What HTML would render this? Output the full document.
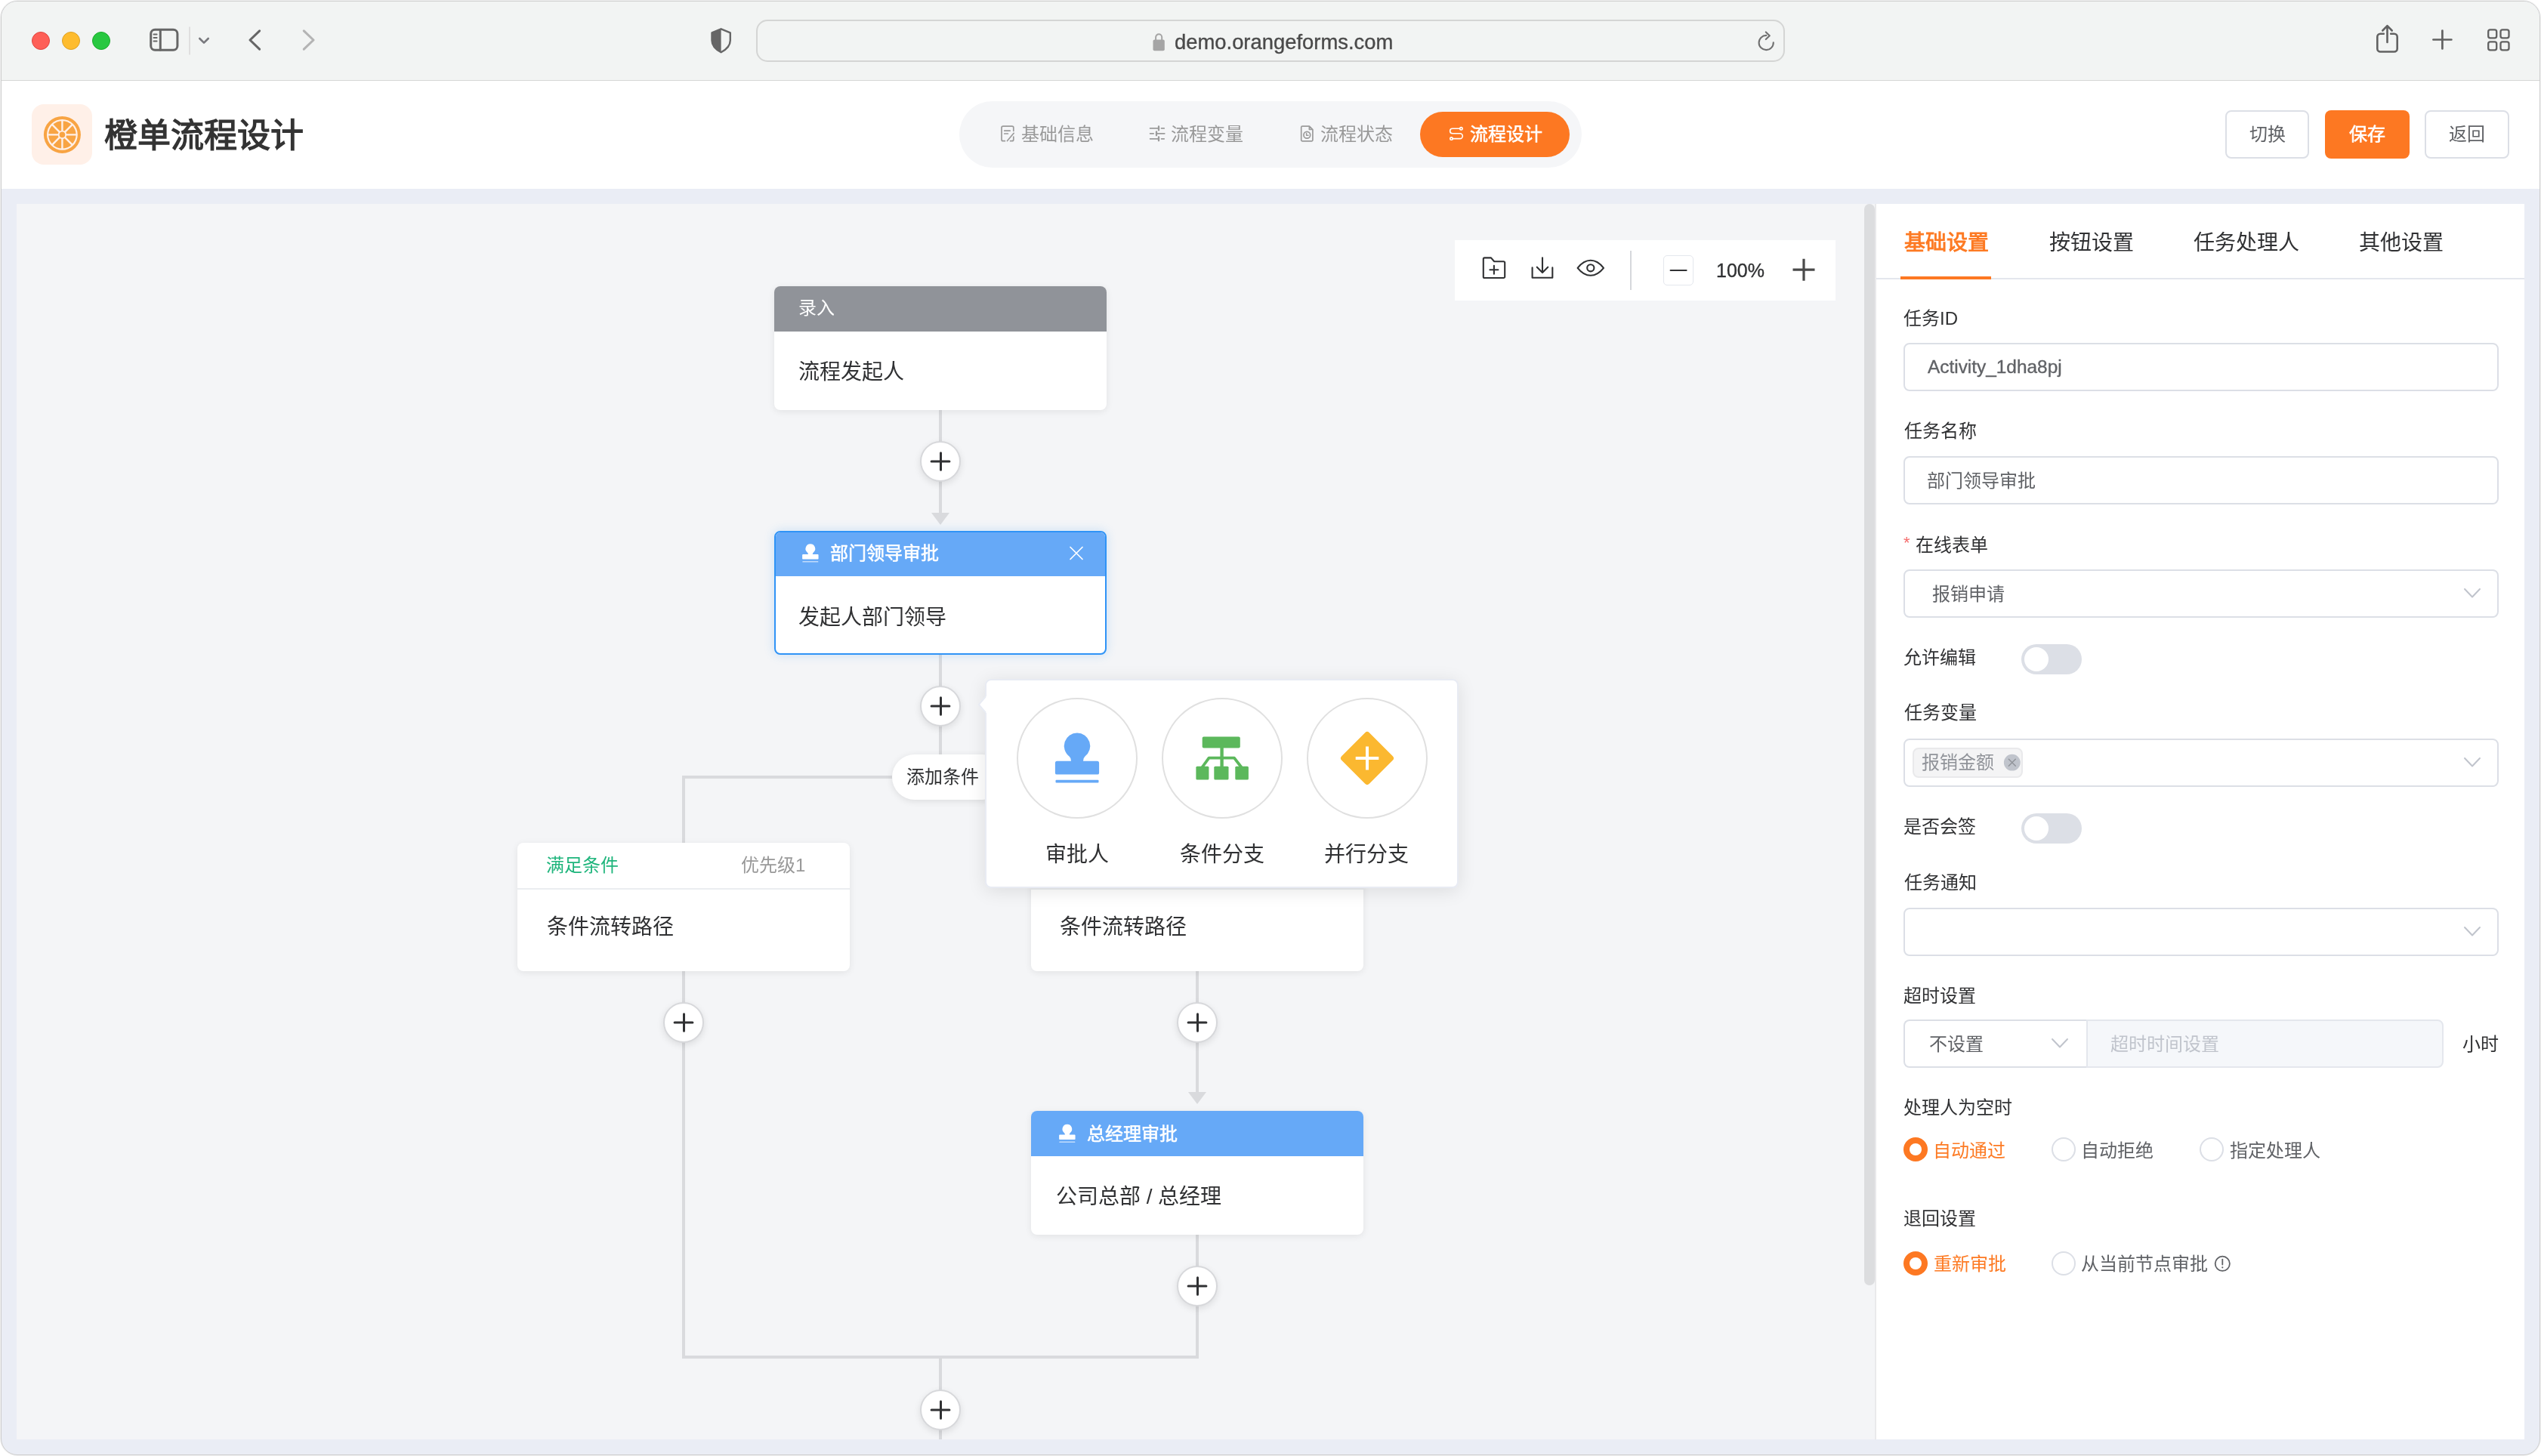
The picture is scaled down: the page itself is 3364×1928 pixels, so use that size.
<!DOCTYPE html>
<html lang="zh-CN"><head><meta charset="utf-8"><title>橙单流程设计</title>
<style>
html,body{margin:0;padding:0}
body{width:3364px;height:1928px;position:relative;overflow:hidden;background:#fff;font-family:"Liberation Sans",sans-serif}
.a{position:absolute}
.t{white-space:nowrap;will-change:transform}
svg.a{overflow:visible}
@media (max-width:1800px){html{zoom:0.5}}
</style></head><body>
<div class="a" style="left:1px;top:1px;width:3362px;height:1926px;background:#eaedf5;border:1px solid #cdcdcd;border-radius:22px;box-sizing:border-box;box-shadow:0 0 0 1px rgba(0,0,0,0.05)"></div>
<div class="a" style="left:2px;top:2px;width:3360px;height:104px;background:#f2f4f3;border-radius:21px 21px 0 0"></div>
<div class="a" style="left:2px;top:106px;width:3360px;height:1px;background:#d6d6d6"></div>
<div class="a" style="left:2px;top:107px;width:3360px;height:143px;background:#ffffff"></div>
<div class="a" style="left:42px;top:42px;width:24px;height:24px;border-radius:50%;background:#fe5f57;border:1px solid #e0443e;box-sizing:border-box"></div>
<div class="a" style="left:82px;top:42px;width:24px;height:24px;border-radius:50%;background:#febc2e;border:1px solid #dea123;box-sizing:border-box"></div>
<div class="a" style="left:122px;top:42px;width:24px;height:24px;border-radius:50%;background:#28c840;border:1px solid #1aab29;box-sizing:border-box"></div>
<svg class="a" style="left:0px;top:0px;" width="3364" height="106" viewBox="0 0 3364 106"><g fill="none" stroke-linecap="round" stroke-linejoin="round"><rect x="199.7" y="39.2" width="35.2" height="27.1" rx="5.5" stroke="#666" stroke-width="3"/><path d="M212.3,39.5 V66" stroke="#666" stroke-width="3"/><path d="M203.5,45.4 H207.6 M203.5,50 H207.6 M203.5,54.4 H207.6" stroke="#666" stroke-width="2"/><path d="M251,36 V72" stroke="#d9d9d9" stroke-width="1.5"/><path d="M264.3,51 L270,56.6 L275.7,51" stroke="#78787d" stroke-width="2.6"/><path d="M343.6,40.8 L331,53 L343.6,65.2" stroke="#666" stroke-width="3.1"/><path d="M402.3,40.8 L415,53 L402.3,65.2" stroke="#b4b4b4" stroke-width="3.1"/><path d="M954.6,38.3 L942.5,43.4 V53.5 C942.5,60.5 947.5,65.5 954.6,69.3 C961.7,65.5 966.8,60.5 966.8,53.5 V43.4 Z" stroke="#666" stroke-width="2.4"/><path d="M954.6,38.3 L942.5,43.4 V53.5 C942.5,60.5 947.5,65.5 954.6,69.3 Z" fill="#666" stroke="none"/><rect x="1002" y="27" width="1360" height="54" rx="14" stroke="#d4d5d4" stroke-width="2" fill="#f2f4f3"/><rect x="1526.5" y="52.6" width="15.3" height="14.6" rx="2" fill="#a5a5a5" stroke="none"/><path d="M1530.1,53 V49.3 A4.05,4.05 0 0 1 1538.2,49.3 V53" stroke="#a5a5a5" stroke-width="2"/><path d="M2347.8,56.2 A9.6,9.6 0 1 1 2338.4,46.9" stroke="#707070" stroke-width="2.1"/><path d="M2337.8,42.4 L2342.8,47.2 L2337.8,52.1" stroke="#707070" stroke-width="2.1"/><path d="M3155.8,44.7 H3151.3 A4,4 0 0 0 3147.3,48.7 V64.5 A4,4 0 0 0 3151.3,68.5 H3169.7 A4,4 0 0 0 3173.7,64.5 V48.7 A4,4 0 0 0 3169.7,44.7 H3165.2" stroke="#626262" stroke-width="2.6"/><path d="M3160.5,56 V34.5 M3154.3,40.5 L3160.5,34.2 L3166.7,40.5" stroke="#626262" stroke-width="2.6"/><path d="M3221.4,52.5 H3245.4 M3233.4,40.5 V64.5" stroke="#626262" stroke-width="2.7"/><rect x="3294.2" y="39.4" width="11" height="11" rx="2.6" stroke="#626262" stroke-width="2.3"/><rect x="3294.2" y="55.3" width="11" height="11" rx="2.6" stroke="#626262" stroke-width="2.3"/><rect x="3310.5" y="39.4" width="11" height="11" rx="2.6" stroke="#626262" stroke-width="2.3"/><rect x="3310.5" y="55.3" width="11" height="11" rx="2.6" stroke="#626262" stroke-width="2.3"/></g></svg>
<div class="a t" id="url" style="left:1554.8px;top:42.0px;font-size:27.4px;line-height:27.4px;font-weight:400;color:#4a4a4a;-webkit-text-stroke:0.35px currentColor">demo.orangeforms.com</div>
<div class="a" style="left:42px;top:138px;width:80px;height:80px;background:#fff0e8;border-radius:16px"></div>
<svg class="a" style="left:52px;top:148px;" width="62" height="62" viewBox="52 148 62 62"><circle cx="82.4" cy="178.4" r="24.5" fill="#f8a443"/><circle cx="82.4" cy="178.4" r="20.4" fill="#fff0e8"/><circle cx="82.4" cy="178.4" r="18.2" fill="#f8a443"/><path d="M63.40,178.40 L101.40,178.40" stroke="#fff0e8" stroke-width="2.4"/><path d="M68.96,164.96 L95.84,191.84" stroke="#fff0e8" stroke-width="2.4"/><path d="M82.40,159.40 L82.40,197.40" stroke="#fff0e8" stroke-width="2.4"/><path d="M95.84,164.96 L68.96,191.84" stroke="#fff0e8" stroke-width="2.4"/><circle cx="82.4" cy="178.4" r="5.7" fill="#fff0e8"/><circle cx="82.4" cy="178.4" r="3.8" fill="#f8a443"/></svg>
<div class="a t" id="title" style="left:138.0px;top:157.5px;font-size:44px;line-height:44px;font-weight:700;color:#333333;">橙单流程设计</div>
<div class="a" style="left:1270px;top:134px;width:824px;height:88px;background:#f5f6f8;border-radius:44px"></div>
<div class="a" style="left:1880px;top:148px;width:198px;height:60px;background:#fd7822;border-radius:30px"></div>
<svg class="a" style="left:1310px;top:160px;" width="640" height="35" viewBox="1310 160 640 35"><g fill="none" stroke="#9b9b9b" stroke-width="1.7" stroke-linecap="round" stroke-linejoin="round"><path d="M1341.8,173.3 V169.1 A2,2 0 0 0 1339.8,167.1 H1328 A2,2 0 0 0 1326,169.1 V184.7 A2,2 0 0 0 1328,186.7 H1330.4 M1337.6,186.7 H1339.8 A2,2 0 0 0 1341.8,184.7 V181.2"/><path d="M1329.7,173.1 H1337.2 M1329.7,177 H1334.4 M1333.5,186.5 L1342.2,176.3"/><path d="M1522.6,169.9 H1533.6 M1537.6,169.9 H1541.2 M1522.6,176.8 H1527.2 M1531.2,176.8 H1541.8 M1522.6,183.8 H1533.6 M1537.6,183.8 H1541.2"/><path d="M1534,167.4 V172.4 M1531,174.3 V179.3 M1534,181.3 V186.3" stroke-width="2.3"/><path d="M1722.7,168.6 A1.5,1.5 0 0 1 1724.2,167.1 H1733.4 L1737.9,171.7 V185.3 A1.5,1.5 0 0 1 1736.4,186.8 H1724.2 A1.5,1.5 0 0 1 1722.7,185.3 Z M1733.4,167.4 V171.5 H1737.6"/><circle cx="1730.3" cy="178.7" r="4.4"/><path d="M1729.6,176.4 V179.3 H1732" stroke-width="1.5"/></g><g fill="none" stroke="#fff" stroke-width="1.6" stroke-linecap="round"><path d="M1932.6,170.3 H1922.9 A3.25,3.25 0 0 0 1922.9,176.8 H1932.9 A3.4,3.4 0 0 1 1932.9,183.6 H1923.2"/><circle cx="1934.4" cy="170.3" r="1.7"/><circle cx="1921.5" cy="183.6" r="1.7"/></g></svg>
<div class="a t" id="nav1" style="left:1352.0px;top:166.1px;font-size:24px;line-height:24px;font-weight:400;color:#999999;">基础信息</div>
<div class="a t" id="nav2" style="left:1550.0px;top:166.1px;font-size:24px;line-height:24px;font-weight:400;color:#999999;">流程变量</div>
<div class="a t" id="nav3" style="left:1747.9px;top:166.3px;font-size:24px;line-height:24px;font-weight:400;color:#999999;">流程状态</div>
<div class="a t" id="nav4" style="left:1945.7px;top:166.3px;font-size:24px;line-height:24px;font-weight:400;color:#ffffff;-webkit-text-stroke:0.6px currentColor">流程设计</div>
<div class="a" style="left:2946px;top:146px;width:111px;height:64px;border:2px solid #dcdfe6;border-radius:8px;box-sizing:border-box;background:#fff"></div>
<div class="a" style="left:3078px;top:146px;width:112px;height:64px;background:#fd7822;border-radius:8px"></div>
<div class="a" style="left:3210px;top:146px;width:112px;height:64px;border:2px solid #dcdfe6;border-radius:8px;box-sizing:border-box;background:#fff"></div>
<div class="a t" id="b1" style="left:2978.0px;top:166.2px;font-size:24px;line-height:24px;font-weight:400;color:#606266;">切换</div>
<div class="a t" id="b2" style="left:3110.2px;top:166.2px;font-size:24px;line-height:24px;font-weight:400;color:#ffffff;-webkit-text-stroke:0.6px currentColor">保存</div>
<div class="a t" id="b3" style="left:3242.0px;top:165.7px;font-size:24px;line-height:24px;font-weight:400;color:#606266;">返回</div>
<div class="a" style="left:22px;top:270px;width:2461px;height:1636px;background:#f4f5f7"></div>
<div class="a" style="left:2468px;top:270px;width:14px;height:1432px;background:#dcdddf;border-radius:7px"></div>
<div class="a" style="left:2482px;top:270px;width:2px;height:1636px;background:#e9e9eb"></div>
<div class="a" style="left:2484px;top:270px;width:858px;height:1636px;background:#ffffff"></div>
<svg class="a" style="left:22px;top:270px;" width="2446" height="1636" viewBox="22 270 2446 1636"><g fill="#d9dadd"><rect x="1243" y="543" width="4" height="137"/><path d="M1233,679 H1257 L1245,695 Z"/><rect x="1243" y="866" width="4" height="134"/><rect x="903" y="1027" width="684" height="4"/><rect x="903" y="1027" width="4" height="90"/><rect x="1583" y="1027" width="4" height="90"/><rect x="903" y="1285" width="4" height="514"/><rect x="1583" y="1285" width="4" height="163"/><path d="M1573,1446 H1597 L1585,1462 Z"/><rect x="1583" y="1634" width="4" height="165"/><rect x="903" y="1795" width="684" height="4"/><rect x="1243" y="1795" width="4" height="111"/></g></svg>
<div class="a" style="left:1025px;top:379px;width:440px;height:164px;background:#fff;border-radius:8px;box-shadow:0 2px 10px rgba(0,0,0,0.08);overflow:hidden"></div>
<div class="a" style="left:1025px;top:379px;width:440px;height:60px;background:#909399;border-radius:8px 8px 0 0"></div>
<div class="a t" id="n1h" style="left:1056.8px;top:396.1px;font-size:24px;line-height:24px;font-weight:400;color:#ffffff;">录入</div>
<div class="a t" id="n1b" style="left:1057.2px;top:479.3px;font-size:28px;line-height:28px;font-weight:400;color:#303133;">流程发起人</div>
<div class="a" style="left:1025px;top:703px;width:440px;height:164px;background:#fff;border-radius:8px;border:2px solid #2f93f6;box-sizing:border-box;box-shadow:0 0 14px rgba(47,147,246,0.22)"></div>
<div class="a" style="left:1027px;top:705px;width:436px;height:58px;background:#66a9f7;border-radius:6px 6px 0 0"></div>
<svg class="a" style="left:1058px;top:716px;" width="32" height="32" viewBox="1058 716 32 32"><g transform="translate(1072.85,726.6) scale(0.368)" fill="#fff"><path d="M0,-17.3 A17.3,17.3 0 0 1 10.5,13.7 Q8,15.7 8,20 H26.5 A2.6,2.6 0 0 1 29.1,22.6 V35.6 A2.2,2.2 0 0 1 26.9,37.8 H-26.9 A2.2,2.2 0 0 1 -29.1,35.6 V22.6 A2.6,2.6 0 0 1 -26.5,20 H-8 Q-8,15.7 -10.5,13.7 A17.3,17.3 0 0 1 0,-17.3 Z"/><rect x="-28.5" y="44.9" width="57" height="3.8" rx="1" opacity="0.6"/></g></svg>
<div class="a t" id="n2h" style="left:1098.7px;top:721.4px;font-size:24px;line-height:24px;font-weight:400;color:#ffffff;-webkit-text-stroke:0.6px currentColor">部门领导审批</div>
<div class="a t" id="n2b" style="left:1057.4px;top:803.5px;font-size:28px;line-height:28px;font-weight:400;color:#303133;">发起人部门领导</div>
<svg class="a" style="left:1412px;top:720px;" width="26" height="26" viewBox="1412 720 26 26"><path d="M1417,724.5 L1433,740.5 M1433,724.5 L1417,740.5" stroke="#fff" stroke-width="1.7" stroke-linecap="round"/></svg>
<div class="a" style="left:1181px;top:999px;width:149px;height:60px;background:#fff;border-radius:30px;box-shadow:0 2px 10px rgba(0,0,0,0.10)"></div>
<div class="a t" id="add" style="left:1200.3px;top:1016.9px;font-size:24px;line-height:24px;font-weight:400;color:#303133;">添加条件</div>
<div class="a" style="left:685px;top:1116px;width:440px;height:170px;background:#fff;border-radius:8px;box-shadow:0 2px 10px rgba(0,0,0,0.08)"></div>
<div class="a" style="left:685px;top:1176px;width:440px;height:2px;background:#ebedf0"></div>
<div class="a" style="left:1365px;top:1116px;width:440px;height:170px;background:#fff;border-radius:8px;box-shadow:0 2px 10px rgba(0,0,0,0.08)"></div>
<div class="a" style="left:1365px;top:1176px;width:440px;height:2px;background:#ebedf0"></div>
<div class="a t" id="c1h" style="left:723.0px;top:1134.0px;font-size:24px;line-height:24px;font-weight:400;color:#1fb57c;">满足条件</div>
<div class="a t" id="c1p" style="left:980.5px;top:1134.0px;font-size:24px;line-height:24px;font-weight:400;color:#999999;">优先级1</div>
<div class="a t" id="c1b" style="left:723.5px;top:1214.0px;font-size:28px;line-height:28px;font-weight:400;color:#303133;">条件流转路径</div>
<div class="a t" id="c2b" style="left:1403.3px;top:1213.7px;font-size:28px;line-height:28px;font-weight:400;color:#303133;">条件流转路径</div>
<div class="a" style="left:1365px;top:1471px;width:440px;height:164px;background:#fff;border-radius:8px;box-shadow:0 2px 10px rgba(0,0,0,0.08);overflow:hidden"></div>
<div class="a" style="left:1365px;top:1471px;width:440px;height:60px;background:#66a9f7;border-radius:8px 8px 0 0"></div>
<svg class="a" style="left:1396px;top:1484px;" width="32" height="32" viewBox="1396 1484 32 32"><g transform="translate(1412.85,1495.1) scale(0.368)" fill="#fff"><path d="M0,-17.3 A17.3,17.3 0 0 1 10.5,13.7 Q8,15.7 8,20 H26.5 A2.6,2.6 0 0 1 29.1,22.6 V35.6 A2.2,2.2 0 0 1 26.9,37.8 H-26.9 A2.2,2.2 0 0 1 -29.1,35.6 V22.6 A2.6,2.6 0 0 1 -26.5,20 H-8 Q-8,15.7 -10.5,13.7 A17.3,17.3 0 0 1 0,-17.3 Z"/><rect x="-28.5" y="44.9" width="57" height="3.8" rx="1" opacity="0.6"/></g></svg>
<div class="a t" id="n3h" style="left:1439.0px;top:1489.7px;font-size:24px;line-height:24px;font-weight:400;color:#ffffff;-webkit-text-stroke:0.6px currentColor">总经理审批</div>
<div class="a t" id="n3b" style="left:1397.8px;top:1570.8px;font-size:28px;line-height:28px;font-weight:400;color:#303133;">公司总部 / 总经理</div>
<div class="a" style="left:1218px;top:584px;width:54px;height:54px;border-radius:50%;background:#fff;border:2px solid #d7d8db;box-sizing:border-box;box-shadow:0 3px 10px rgba(0,0,0,0.10)"></div><svg class="a" style="left:1229px;top:595px;" width="32" height="32" viewBox="1229 595 32 32"><path d="M1233.1,611 H1256.9 M1245.5,599.8 V622.2" stroke="#303133" stroke-width="3" stroke-linecap="round" fill="none"/></svg>
<div class="a" style="left:1218px;top:908px;width:54px;height:54px;border-radius:50%;background:#fff;border:2px solid #d7d8db;box-sizing:border-box;box-shadow:0 3px 10px rgba(0,0,0,0.10)"></div><svg class="a" style="left:1229px;top:919px;" width="32" height="32" viewBox="1229 919 32 32"><path d="M1233.1,935 H1256.9 M1245.5,923.8 V946.2" stroke="#303133" stroke-width="3" stroke-linecap="round" fill="none"/></svg>
<div class="a" style="left:878px;top:1327px;width:54px;height:54px;border-radius:50%;background:#fff;border:2px solid #d7d8db;box-sizing:border-box;box-shadow:0 3px 10px rgba(0,0,0,0.10)"></div><svg class="a" style="left:889px;top:1338px;" width="32" height="32" viewBox="889 1338 32 32"><path d="M893.1,1354 H916.9 M905.5,1342.8 V1365.2" stroke="#303133" stroke-width="3" stroke-linecap="round" fill="none"/></svg>
<div class="a" style="left:1558px;top:1327px;width:54px;height:54px;border-radius:50%;background:#fff;border:2px solid #d7d8db;box-sizing:border-box;box-shadow:0 3px 10px rgba(0,0,0,0.10)"></div><svg class="a" style="left:1569px;top:1338px;" width="32" height="32" viewBox="1569 1338 32 32"><path d="M1573.1,1354 H1596.9 M1585.5,1342.8 V1365.2" stroke="#303133" stroke-width="3" stroke-linecap="round" fill="none"/></svg>
<div class="a" style="left:1558px;top:1676px;width:54px;height:54px;border-radius:50%;background:#fff;border:2px solid #d7d8db;box-sizing:border-box;box-shadow:0 3px 10px rgba(0,0,0,0.10)"></div><svg class="a" style="left:1569px;top:1687px;" width="32" height="32" viewBox="1569 1687 32 32"><path d="M1573.1,1703 H1596.9 M1585.5,1691.8 V1714.2" stroke="#303133" stroke-width="3" stroke-linecap="round" fill="none"/></svg>
<div class="a" style="left:1218px;top:1840px;width:54px;height:54px;border-radius:50%;background:#fff;border:2px solid #d7d8db;box-sizing:border-box;box-shadow:0 3px 10px rgba(0,0,0,0.10)"></div><svg class="a" style="left:1229px;top:1851px;" width="32" height="32" viewBox="1229 1851 32 32"><path d="M1233.1,1867 H1256.9 M1245.5,1855.8 V1878.2" stroke="#303133" stroke-width="3" stroke-linecap="round" fill="none"/></svg>
<div class="a" style="left:1304px;top:899px;width:627px;height:277px;background:#fff;border-radius:8px;border:2px solid #e8ebf3;box-sizing:border-box;box-shadow:0 4px 24px rgba(0,0,0,0.10)"></div>
<svg class="a" style="left:1288px;top:915px;" width="24" height="36" viewBox="1288 915 24 36"><path d="M1306.5,921 L1295.8,933 L1306.5,945 Z" fill="#fff"/><rect x="1304" y="923.3" width="4" height="19.4" fill="#fff"/><path d="M1305,922.3 L1295.8,933 L1305,943.7" fill="none" stroke="#e8ebf3" stroke-width="2" stroke-linejoin="miter"/></svg>
<svg class="a" style="left:1340px;top:920px;" width="560" height="170" viewBox="1340 920 560 170"><g fill="none" stroke="#e0e0e0" stroke-width="2"><circle cx="1426" cy="1004" r="79"/><circle cx="1618" cy="1004" r="79"/><circle cx="1810" cy="1004" r="79"/></g><g transform="translate(1426,987.8) scale(1.0)" fill="#66a9f7"><path d="M0,-17.3 A17.3,17.3 0 0 1 10.5,13.7 Q8,15.7 8,20 H26.5 A2.6,2.6 0 0 1 29.1,22.6 V35.6 A2.2,2.2 0 0 1 26.9,37.8 H-26.9 A2.2,2.2 0 0 1 -29.1,35.6 V22.6 A2.6,2.6 0 0 1 -26.5,20 H-8 Q-8,15.7 -10.5,13.7 A17.3,17.3 0 0 1 0,-17.3 Z"/><rect x="-28.5" y="44.9" width="57" height="3.8" rx="1" opacity="1.0"/></g><g fill="#5cb85c"><rect x="1591.7" y="975.6" width="50.1" height="14.8" rx="2"/><rect x="1583.4" y="1014.8" width="17" height="17.6" rx="1.5"/><rect x="1607.3" y="1014.8" width="19.2" height="17.6" rx="1.5"/><rect x="1635.3" y="1014.8" width="17.6" height="17.6" rx="1.5"/></g><path d="M1617.6,990 V1015" stroke="#5cb85c" stroke-width="4.4" fill="none"/><path d="M1591.5,1016 L1600.5,1003.6 H1634 L1643.5,1016" stroke="#5cb85c" stroke-width="3.8" fill="none" stroke-linejoin="round"/><rect x="1784.1" y="978.1" width="51.8" height="51.8" rx="4" fill="#fbb830" transform="rotate(45 1810 1004)"/><path d="M1794.7,1004 H1825.3 M1810,988.5 V1019.5" stroke="#fff" stroke-width="4"/></svg>
<div class="a t" id="p1" style="left:1384.0px;top:1118.0px;font-size:28px;line-height:28px;font-weight:400;color:#303133;">审批人</div>
<div class="a t" id="p2" style="left:1561.8px;top:1118.0px;font-size:28px;line-height:28px;font-weight:400;color:#303133;">条件分支</div>
<div class="a t" id="p3" style="left:1753.4px;top:1118.0px;font-size:28px;line-height:28px;font-weight:400;color:#303133;">并行分支</div>
<div class="a" style="left:1926px;top:318px;width:504px;height:80px;background:#fff"></div>
<svg class="a" style="left:1940px;top:325px;" width="480" height="65" viewBox="1940 325 480 65"><g fill="none" stroke="#303133" stroke-width="2.1" stroke-linecap="round" stroke-linejoin="round"><path d="M1963.8,343 A1.6,1.6 0 0 1 1965.4,341.4 H1974 L1978.2,346.2 H1990.6 A1.6,1.6 0 0 1 1992.2,347.8 V366.4 A1.6,1.6 0 0 1 1990.6,368 H1965.4 A1.6,1.6 0 0 1 1963.8,366.4 Z"/><path d="M1972.4,357.3 H1983.4 M1977.9,351.8 V362.8"/><path d="M2028.6,354.4 V367.8 H2055.3 V354.4 M2042,341.2 V360.8 M2034.8,353.7 L2042,360.9 L2049.2,353.7"/><path d="M2088.6,354.8 C2093.3,348.9 2099.2,344.8 2105.8,344.8 C2112.4,344.8 2118.3,348.9 2123,354.8 C2118.3,360.7 2112.4,364.8 2105.8,364.8 C2099.2,364.8 2093.3,360.7 2088.6,354.8 Z"/><circle cx="2105.8" cy="354.8" r="4.6"/><path d="M2211.6,358 H2232.6"/><path d="M2373.5,357.2 H2402.5 M2388,342.7 V371.7" stroke="#4a4a4a" stroke-width="3.2" stroke-linecap="butt"/></g><rect x="2158" y="332" width="2" height="52" fill="#d6d8dc"/></svg>
<div class="a" style="left:2202px;top:338px;width:40px;height:40px;border:1px solid #e4e7ed;border-radius:5px;box-sizing:border-box"></div>
<div class="a t" id="zoom" style="left:2271.7px;top:345.8px;font-size:25px;line-height:25px;font-weight:400;color:#303133;-webkit-text-stroke:0.35px currentColor">100%</div>
<div class="a" style="left:2484px;top:368px;width:858px;height:2px;background:#e4e7ed"></div>
<div class="a" style="left:2516px;top:366px;width:120px;height:4px;background:#fd7822"></div>
<div class="a t" id="rt1" style="left:2520.8px;top:307.9px;font-size:28px;line-height:28px;font-weight:700;color:#fd7a23;">基础设置</div>
<div class="a t" id="rt2" style="left:2712.5px;top:307.9px;font-size:28px;line-height:28px;font-weight:400;color:#303133;">按钮设置</div>
<div class="a t" id="rt3" style="left:2903.6px;top:307.9px;font-size:28px;line-height:28px;font-weight:400;color:#303133;">任务处理人</div>
<div class="a t" id="rt4" style="left:3123.3px;top:307.9px;font-size:28px;line-height:28px;font-weight:400;color:#303133;">其他设置</div>
<div class="a" style="left:2520px;top:454px;width:788px;height:64px;border:2px solid #dcdfe6;border-radius:8px;box-sizing:border-box;background:#fff"></div>
<div class="a" style="left:2520px;top:604px;width:788px;height:64px;border:2px solid #dcdfe6;border-radius:8px;box-sizing:border-box;background:#fff"></div>
<div class="a" style="left:2520px;top:754px;width:788px;height:64px;border:2px solid #dcdfe6;border-radius:8px;box-sizing:border-box;background:#fff"></div>
<div class="a" style="left:2520px;top:978px;width:788px;height:64px;border:2px solid #dcdfe6;border-radius:8px;box-sizing:border-box;background:#fff"></div>
<div class="a" style="left:2520px;top:1202px;width:788px;height:64px;border:2px solid #dcdfe6;border-radius:8px;box-sizing:border-box;background:#fff"></div>
<div class="a" style="left:2520px;top:1350px;width:244px;height:64px;border:2px solid #dcdfe6;border-right:none;border-radius:8px 0 0 8px;box-sizing:border-box;background:#fff"></div>
<div class="a" style="left:2762px;top:1350px;width:473px;height:64px;background:#f5f7fa;border:2px solid #e4e7ed;border-radius:0 8px 8px 0;box-sizing:border-box"></div>
<svg class="a" style="left:2700px;top:770px;" width="600" height="630" viewBox="2700 770 600 630"><g fill="none" stroke="#c0c4cc" stroke-width="2" stroke-linecap="round" stroke-linejoin="round"><path d="M3263,780 L3273,790.5 L3283,780"/><path d="M3263,1004 L3273,1014.5 L3283,1004"/><path d="M3263,1228 L3273,1238.5 L3283,1228"/><path d="M2717,1376 L2727,1386.5 L2737,1376"/></g></svg>
<div class="a" style="left:2676px;top:853px;width:80px;height:40px;background:#dcdfe6;border-radius:20px"></div>
<div class="a" style="left:2680px;top:857px;width:32px;height:32px;background:#fff;border-radius:50%"></div>
<div class="a" style="left:2676px;top:1077px;width:80px;height:40px;background:#dcdfe6;border-radius:20px"></div>
<div class="a" style="left:2680px;top:1081px;width:32px;height:32px;background:#fff;border-radius:50%"></div>
<div class="a" style="left:2532px;top:990px;width:146px;height:40px;background:#f4f4f5;border:2px solid #e9e9eb;border-radius:8px;box-sizing:border-box"></div>
<svg class="a" style="left:2650px;top:996px;" width="28" height="28" viewBox="2650 996 28 28"><circle cx="2663.8" cy="1009.7" r="10.9" fill="#c0c4cc"/><path d="M2659.3,1005.2 L2668.3,1014.2 M2668.3,1005.2 L2659.3,1014.2" stroke="#909399" stroke-width="1.4" stroke-linecap="round"/></svg>
<svg class="a" style="left:2510px;top:1495px;" width="450" height="200" viewBox="2510 1495 450 200"><circle cx="2536" cy="1522" r="16" fill="#fd7822"/><circle cx="2536" cy="1522" r="8" fill="#fff"/><circle cx="2732" cy="1522" r="15" fill="#fff" stroke="#dcdfe6" stroke-width="2"/><circle cx="2928" cy="1522" r="15" fill="#fff" stroke="#dcdfe6" stroke-width="2"/><circle cx="2536" cy="1673" r="16" fill="#fd7822"/><circle cx="2536" cy="1673" r="8" fill="#fff"/><circle cx="2732" cy="1673" r="15" fill="#fff" stroke="#dcdfe6" stroke-width="2"/><circle cx="2942.3" cy="1673.3" r="9.6" fill="none" stroke="#606266" stroke-width="1.8"/><path d="M2942.3,1667.6 V1674.5" stroke="#606266" stroke-width="1.8" stroke-linecap="round"/><circle cx="2942.3" cy="1678.3" r="1.1" fill="#606266"/></svg>
<div class="a t" id="l1" style="left:2519.9px;top:409.5px;font-size:24px;line-height:24px;font-weight:400;color:#303133;">任务ID</div>
<div class="a t" id="l2" style="left:2520.7px;top:559.3px;font-size:24px;line-height:24px;font-weight:400;color:#303133;">任务名称</div>
<div class="a t" id="l3" style="left:2535.5px;top:709.5px;font-size:24px;line-height:24px;font-weight:400;color:#303133;">在线表单</div>
<div class="a t" id="l4" style="left:2520.0px;top:858.9px;font-size:24px;line-height:24px;font-weight:400;color:#303133;">允许编辑</div>
<div class="a t" id="l5" style="left:2520.5px;top:931.7px;font-size:24px;line-height:24px;font-weight:400;color:#303133;">任务变量</div>
<div class="a t" id="l6" style="left:2520.0px;top:1083.2px;font-size:24px;line-height:24px;font-weight:400;color:#303133;">是否会签</div>
<div class="a t" id="l7" style="left:2521.0px;top:1156.8px;font-size:24px;line-height:24px;font-weight:400;color:#303133;">任务通知</div>
<div class="a t" id="l8" style="left:2520.0px;top:1306.5px;font-size:24px;line-height:24px;font-weight:400;color:#303133;">超时设置</div>
<div class="a t" id="l9" style="left:2520.0px;top:1454.6px;font-size:24px;line-height:24px;font-weight:400;color:#303133;">处理人为空时</div>
<div class="a t" id="l10" style="left:2520.0px;top:1602.3px;font-size:24px;line-height:24px;font-weight:400;color:#303133;">退回设置</div>
<div class="a t" id="v1" style="left:2551.7px;top:474.0px;font-size:24.4px;line-height:24.4px;font-weight:400;color:#606266;-webkit-text-stroke:0.35px currentColor">Activity_1dha8pj</div>
<div class="a t" id="v2" style="left:2551.1px;top:624.5px;font-size:24px;line-height:24px;font-weight:400;color:#606266;">部门领导审批</div>
<div class="a t" id="v3" style="left:2558.4px;top:774.7px;font-size:24px;line-height:24px;font-weight:400;color:#606266;">报销申请</div>
<div class="a t" id="tag" style="left:2544.1px;top:998.2px;font-size:24px;line-height:24px;font-weight:400;color:#909399;">报销金额</div>
<div class="a t" id="v5" style="left:2553.7px;top:1370.7px;font-size:24px;line-height:24px;font-weight:400;color:#606266;">不设置</div>
<div class="a t" id="v6" style="left:2794.2px;top:1371.3px;font-size:24px;line-height:24px;font-weight:400;color:#c0c4cc;">超时时间设置</div>
<div class="a t" id="v7" style="left:3259.9px;top:1370.5px;font-size:24px;line-height:24px;font-weight:400;color:#303133;">小时</div>
<div class="a t" id="r1" style="left:2559.0px;top:1512.2px;font-size:24px;line-height:24px;font-weight:400;color:#fd7a23;">自动通过</div>
<div class="a t" id="r2" style="left:2754.6px;top:1512.2px;font-size:24px;line-height:24px;font-weight:400;color:#606266;">自动拒绝</div>
<div class="a t" id="r3" style="left:2952.3px;top:1512.2px;font-size:24px;line-height:24px;font-weight:400;color:#606266;">指定处理人</div>
<div class="a t" id="r4" style="left:2560.0px;top:1662.2px;font-size:24px;line-height:24px;font-weight:400;color:#fd7a23;">重新审批</div>
<div class="a t" id="r5" style="left:2755.1px;top:1662.2px;font-size:24px;line-height:24px;font-weight:400;color:#606266;">从当前节点审批</div>
<div class="a t" id="ast" style="left:2519.6px;top:708.0px;font-size:22px;line-height:22px;font-weight:400;color:#f56c6c;">*</div>
</body></html>
